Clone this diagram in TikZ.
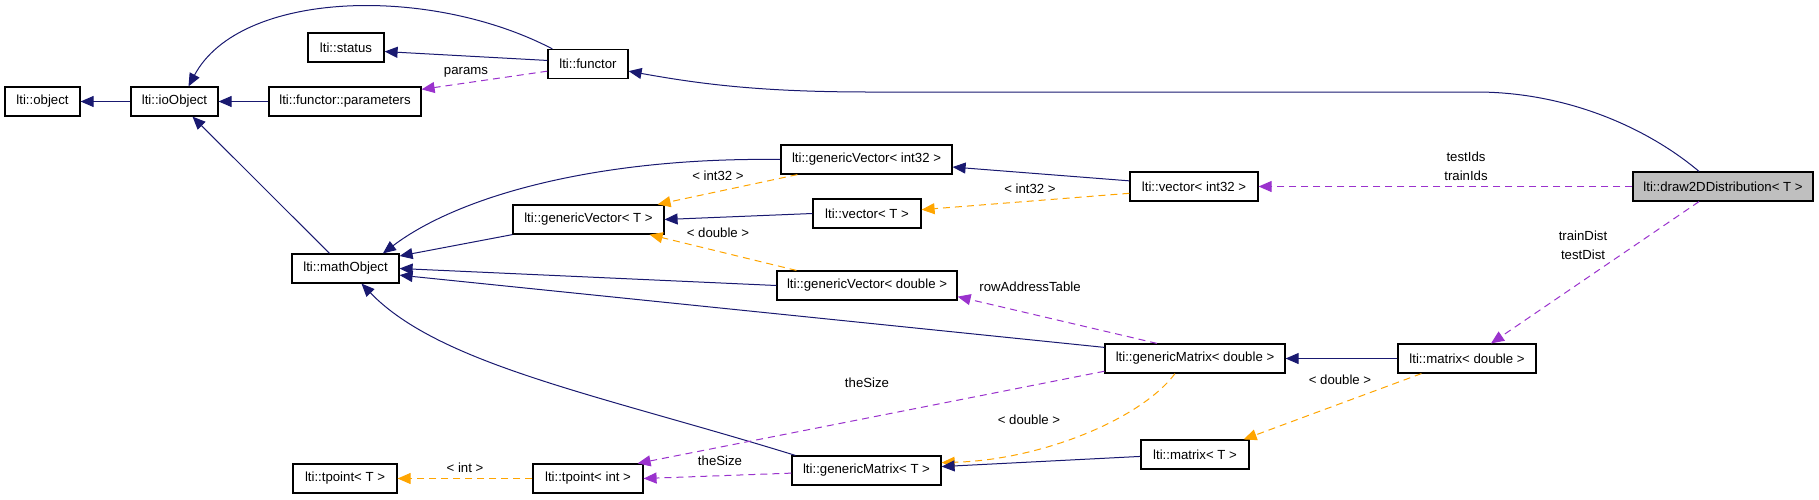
\documentclass[tikz,border=0pt]{standalone}
\usepackage{fontspec}
\setmainfont{Liberation Sans}
\usepackage{tikz}
\usetikzlibrary{positioning, arrows.meta, calc}
\definecolor{dNavy}{HTML}{191970}
\definecolor{dPurple}{HTML}{9A32CD}
\definecolor{dOrange}{HTML}{FFA500}
\definecolor{dGrey}{HTML}{BFBFBF}
\tikzset{
  cls/.style={draw=black, fill=white, line width=0.6pt, inner sep=0pt, minimum height=14.5pt, font=\fontsize{6.6}{9.5}\selectfont},
  lbl/.style={inner sep=0pt, align=center, font=\fontsize{6.6}{9.5}\selectfont},
  inh/.style={draw=dNavy, line width=0.5pt, -{Triangle[length=6.5pt,width=5.5pt]}},
  uses/.style={draw=dPurple, line width=0.5pt, dash pattern=on 3.5pt off 2.5pt, -{Triangle[length=6.5pt,width=5.5pt]}},
  tmpl/.style={draw=dOrange, line width=0.5pt, dash pattern=on 3.5pt off 2.5pt, -{Triangle[length=6.5pt,width=5.5pt]}}
}

\begin{document}
\begin{tikzpicture}[x=0.5pt, y=-0.5pt]
  \useasboundingbox (0,0) rectangle (1819,499);
  \node[cls, minimum width=37.5pt] (object) at (42.5,101.5) {lti::object};
  \node[cls, minimum width=43.5pt] (ioObject) at (174.5,101.5) {lti::ioObject};
  \node[cls, minimum width=76pt] (params) at (345,101.5) {lti::functor::parameters};
  \node[cls, minimum width=38pt] (status) at (346,47.5) {lti::status};
  \node[cls, minimum width=40pt] (functor) at (588,64) {lti::functor};
  \node[cls, minimum width=53.5pt] (mathObject) at (345.5,268.5) {lti::mathObject};
  \node[cls, minimum width=75.5pt] (gvT) at (588.5,219.5) {lti::genericVector< T >};
  \node[cls, minimum width=85.5pt] (gvInt) at (866.5,159.5) {lti::genericVector< int32 >};
  \node[cls, minimum width=54pt] (vT) at (867,213.5) {lti::vector< T >};
  \node[cls, minimum width=64pt] (vInt) at (1194,186.5) {lti::vector< int32 >};
  \node[cls, minimum width=90pt, fill=dGrey] (draw2D) at (1723,186.5) {lti::draw2DDistribution< T >};
  \node[cls, minimum width=90pt] (gvDbl) at (867,285.5) {lti::genericVector< double >};
  \node[cls, minimum width=90pt] (gmDbl) at (1195,358.5) {lti::genericMatrix< double >};
  \node[cls, minimum width=69pt] (mDbl) at (1467,358.5) {lti::matrix< double >};
  \node[cls, minimum width=54pt] (mT) at (1195,454.5) {lti::matrix< T >};
  \node[cls, minimum width=74.5pt] (gmT) at (866.5,470.5) {lti::genericMatrix< T >};
  \node[cls, minimum width=55pt] (tpInt) at (588,478.5) {lti::tpoint< int >};
  \node[cls, minimum width=52pt] (tpT) at (345,478.5) {lti::tpoint< T >};

  \draw[inh] (ioObject.west) -- (object.east);
  \draw[inh] (params.west) -- (ioObject.east);
  \draw[inh] ([xshift=2.5pt]functor.north west) .. controls (430,-15) and (240,-10) .. ([xshift=7pt]ioObject.north);
  \draw[inh] (functor.175) -- (status.-6);
  \draw[uses] (functor.190) -- (params.9);
  \draw[inh] ([xshift=-8pt]mathObject.north) -- ([xshift=9pt]ioObject.south);
  \draw[inh] ([xshift=-12pt]draw2D.north) .. controls (1650,130) and (1570,92) .. (1476,92)
    -- (870,92) .. controls (760,92) and (700,84) .. (functor.-10);
  \draw[inh] (gvInt.west) .. controls (600,157) and (460,195) .. (mathObject.22);
  \draw[inh] (gvT.south west) -- (mathObject.13);
  \draw[inh] (gvDbl.west) -- (mathObject.east);
  \draw[inh] (gmDbl.173) -- (mathObject.-7);
  \draw[inh] ([xshift=2pt]gmT.north west) .. controls (600,395) and (440,365) .. ([xshift=8pt]mathObject.south);
  \draw[tmpl] ([xshift=8.5pt]gvInt.south west) -- ([xshift=-3.5pt]gvT.north east);
  \draw[inh] (vT.west) -- (gvT.east);
  \draw[tmpl] ([xshift=10pt]gvDbl.north west) -- ([xshift=-7.5pt]gvT.south east);
  \draw[inh] (vInt.175) -- (gvInt.-5);
  \draw[tmpl] (vInt.186) -- (vT.4);
  \draw[uses] (draw2D.west) -- (vInt.east);
  \draw[uses] ([xshift=-12pt]draw2D.south) -- ([xshift=12pt]mDbl.north);
  \draw[uses] ([xshift=-19pt]gmDbl.north) -- (gvDbl.-7);
  \draw[inh] (mDbl.west) -- (gmDbl.east);
  \draw[tmpl] ([xshift=12pt]mDbl.south west) -- ([xshift=-3pt]mT.north east);
  \draw[uses] (gmDbl.188) -- ([xshift=-3pt]tpInt.north east);
  \draw[tmpl] ([xshift=-10pt]gmDbl.south) .. controls (1140,420) and (1040,460) .. (gmT.6);
  \draw[inh] (mT.182) -- (gmT.3);
  \draw[uses] (gmT.182) -- (tpInt.east);
  \draw[tmpl] (tpInt.west) -- (tpT.east);

  \node[lbl] (lParams) at (466,72) {params};
  \node[lbl] (lGvInt) at (718,176) {< int32 >};
  \node[lbl] (lGvDbl) at (718,233) {< double >};
  \node[lbl] (lVInt) at (1030,189) {< int32 >};
  \node[lbl] (lIds) at (1466,166.5) {testIds\\trainIds};
  \node[lbl] (lDist) at (1583,245.5) {trainDist\\testDist};
  \node[lbl] (lRow) at (1030,287) {rowAddressTable};
  \node[lbl] (lMDbl) at (1340,380) {< double >};
  \node[lbl] (lSizeA) at (867,383) {theSize};
  \node[lbl] (lGmDbl) at (1029,420) {< double >};
  \node[lbl] (lSizeB) at (720,461) {theSize};
  \node[lbl] (lInt) at (465,468) {< int >};
\end{tikzpicture}
\end{document}
